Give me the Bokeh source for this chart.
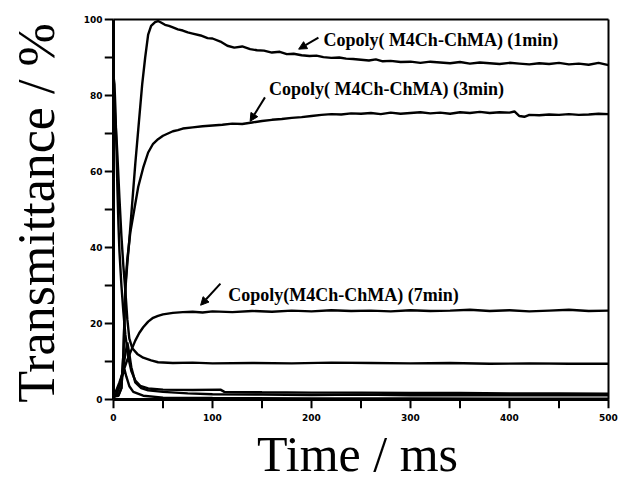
from bokeh.plotting import figure
from bokeh.models import FixedTicker, Arrow, NormalHead, Label, Range1d
from bokeh.embed import file_html
from bokeh.resources import INLINE

# ---- data ----
t_1min = [0, 5, 8, 10, 12, 14, 16, 19, 22, 25, 29, 32, 35, 38, 42, 45, 48, 52, 56, 60, 65, 70, 75, 80, 88, 95,
          100, 108, 115, 122, 130, 138, 145, 152, 160, 168, 175, 182, 190, 198, 205, 212, 220, 228, 235, 242, 250,
          258, 265, 272, 280, 290, 300, 310, 320, 330, 340, 350, 360, 370, 380, 390, 400, 410, 420, 430, 440, 450,
          460, 470, 480, 490, 500]
v_1min = [0.8, 1.0, 3, 12, 29, 36, 42, 52, 62, 71, 83, 90, 96, 98.3, 99.3, 99.6, 99.2, 98.6, 98.3, 97.9, 97.4, 97.1,
          96.6, 96.3, 95.8, 95.1, 95.0, 94.2, 93.1, 92.6, 92.9, 92.2, 91.9, 91.8, 91.3, 91.5, 90.9, 91.0, 90.6, 90.4,
          90.5, 90.1, 89.9, 90.0, 89.7, 89.6, 89.4, 89.2, 89.5, 89.0, 89.1, 88.8, 88.9, 88.6, 88.9, 88.7, 88.5, 88.8,
          88.4, 88.7, 88.5, 88.3, 88.6, 88.4, 88.2, 88.5, 88.3, 88.6, 88.2, 88.4, 88.1, 88.6, 88.0]

t_3min = [0, 5, 8, 10, 12, 14, 17, 21, 25, 30, 35, 40, 45, 50, 55, 60, 65, 70, 80, 90, 100, 110, 120, 130, 140, 150,
          160, 170, 180, 190, 200, 210, 220, 230, 240, 250, 260, 270, 280, 290, 300, 310, 320, 330, 340, 350, 360,
          370, 380, 390, 400, 405, 410, 415, 420, 430, 440, 450, 460, 470, 480, 490, 500]
v_3min = [1.0, 1.2, 3, 12, 30, 37, 44, 50, 56, 61, 65, 67.3, 68.5, 69.4, 70.0, 70.6, 70.9, 71.3, 71.6, 71.9, 72.1,
          72.3, 72.6, 72.5, 72.9, 73.3, 73.6, 73.8, 74.1, 74.3, 74.6, 74.9, 75.1, 75.0, 75.3, 75.2, 75.4, 75.1, 75.5,
          75.2, 75.4, 75.6, 75.3, 75.5, 75.2, 75.6, 75.4, 75.7, 75.4, 75.6, 75.5, 75.8, 74.6, 74.4, 74.9, 74.8, 75.0,
          74.9, 75.1, 74.9, 75.0, 75.2, 75.1]

t_7min = [0, 3, 6, 10, 14, 18, 22, 26, 30, 35, 40, 45, 50, 55, 60, 70, 80, 90, 100, 120, 140, 160, 180, 200, 220,
          240, 260, 280, 300, 320, 340, 360, 380, 400, 420, 440, 460, 480, 500]
v_7min = [1.5, 2.5, 4.5, 7.5, 10.5, 13, 15.5, 17.5, 19, 20.5, 21.5, 22.0, 22.4, 22.6, 22.8, 23.0, 23.1, 22.9, 23.2,
          23.0, 23.3, 23.1, 23.4, 23.2, 23.5, 23.3, 23.4, 23.2, 23.5, 23.3, 23.4, 23.6, 23.3, 23.5, 23.2, 23.4, 23.6,
          23.3, 23.4]

t_off_a = [0, 1, 2, 3, 4, 5, 6, 8, 10, 12, 15, 18, 22, 27, 35, 50, 80, 108, 112, 150, 200, 250, 300, 350, 400, 450, 500]
v_off_a = [85, 83, 76, 66, 55, 46, 39, 30, 23, 17, 11, 7.5, 5, 3.6, 2.9, 2.6, 2.5, 2.6, 2.0, 1.9, 1.8, 1.8, 1.7,
           1.7, 1.6, 1.6, 1.5]

t_off_b = [0, 1, 2, 3, 4, 6, 8, 10, 12, 14, 16, 19, 24, 30, 38, 45, 60, 80, 100, 140, 180, 220, 260, 300, 340, 380,
           420, 460, 500]
v_off_b = [78, 77, 73, 69, 64, 53, 43, 35, 28.5, 21, 16, 13.5, 12, 11, 10.3, 9.8, 9.6, 9.7, 9.5, 9.6, 9.5, 9.7, 9.6,
           9.5, 9.6, 9.4, 9.5, 9.4, 9.4]

t_off_c = [0, 3, 6, 9, 12, 14, 16, 18, 22, 28, 35, 50, 75, 100, 150, 200, 250, 300, 350, 400, 450, 500]
v_off_c = [0.5, 1.5, 3.5, 7, 12, 15, 12, 8.5, 4.5, 3.0, 2.4, 2.0, 1.6, 1.4, 1.3, 1.2, 1.3, 1.1, 1.2, 1.1, 1.2, 1.1]

t_off_d = [0, 4, 8, 11, 13, 16, 20, 30, 50, 100, 200, 300, 400, 500]
v_off_d = [0.3, 2, 5.5, 8, 6, 3.5, 2, 1, 0.5, 0.4, 0.3, 0.3, 0.2, 0.2]

y_ticks = [0, 20, 40, 60, 80, 100]
y_minor = [10, 30, 50, 70, 90]
x_ticks = [0, 100, 200, 300, 400, 500]
x_minor = [50, 150, 250, 350, 450]

labels = ["Copoly( M4Ch-ChMA) (1min)", "Copoly( M4Ch-ChMA) (3min)", "Copoly(M4Ch-ChMA) (7min)"]

# annotation placement (data units)
label_pos = [(212, 94.5), (157, 81.8), (116, 27.6)]
arrow_pos = [((207, 95.2), (187, 92.2)), ((153, 79.5), (138, 73.2)), ((108, 30.5), (88, 24.8))]

# ---- layout ----
W, H = 624, 488
X0, X1, Y0, Y1 = 0, 500, 0, 100
PX_LEFT, PX_RIGHT, PX_TOP, PX_BOTTOM = 113, 608, 19, 399   # box of the data area
TICK_PX, PAD = 9, 2
ux = (X1 - X0) / (PX_RIGHT - PX_LEFT)
uy = (Y1 - Y0) / (PX_BOTTOM - PX_TOP)

p = figure(width=W, height=H,
           x_range=Range1d(X0 - TICK_PX * ux, X1 + PAD * ux),
           y_range=Range1d(Y0 - TICK_PX * uy, Y1 + PAD * uy),
           output_backend="svg", toolbar_location=None,
           min_border_left=PX_LEFT - TICK_PX, min_border_right=W - PX_RIGHT - PAD,
           min_border_top=PX_TOP - PAD, min_border_bottom=H - PX_BOTTOM - TICK_PX)
p.grid.visible = False
p.outline_line_color = None

# data curves
for t, v in [(t_1min, v_1min), (t_3min, v_3min), (t_7min, v_7min),
             (t_off_a, v_off_a), (t_off_b, v_off_b), (t_off_c, v_off_c), (t_off_d, v_off_d)]:
    p.line(t, v, line_color="black", line_width=2.4)

# box: left & bottom axis lines (thick), top & right border
p.segment(x0=[X0, X0], y0=[Y0, Y0], x1=[X0, X1], y1=[Y1, Y0], line_color="black", line_width=3)
p.segment(x0=[X0, X1], y0=[Y1, Y0], x1=[X1, X1], y1=[Y1, Y1], line_color="black", line_width=2)

# outward tick marks from the tick arrays
xt = x_ticks + x_minor
yt = y_ticks + y_minor
p.segment(x0=xt, y0=[Y0] * len(xt), x1=xt, y1=[Y0 - TICK_PX * uy] * len(xt), line_color="black", line_width=2)
p.segment(x0=[X0] * len(yt), y0=yt, x1=[X0 - TICK_PX * ux] * len(yt), y1=yt, line_color="black", line_width=2)

# axes carry only the tick labels and axis titles
p.xaxis[0].ticker = FixedTicker(ticks=x_ticks, minor_ticks=[])
p.yaxis[0].ticker = FixedTicker(ticks=y_ticks, minor_ticks=[])
for ax in (p.xaxis[0], p.yaxis[0]):
    ax.axis_line_color = None
    ax.major_tick_line_color = None
    ax.minor_tick_line_color = None
    ax.major_tick_out = 0
    ax.major_tick_in = 0
    ax.minor_tick_out = 0
    ax.minor_tick_in = 0
    ax.major_label_text_font = "DejaVu Sans"
    ax.major_label_text_font_style = "bold"
    ax.major_label_text_font_size = "9px"
    ax.major_label_text_color = "black"
    ax.axis_label_text_font = "Liberation Serif"
    ax.axis_label_text_font_style = "normal"
    ax.axis_label_text_color = "black"

p.xaxis[0].axis_label = "Time / ms"
p.yaxis[0].axis_label = "Transmittance / %"
p.xaxis[0].axis_label_text_font_size = "50px"
p.yaxis[0].axis_label_text_font_size = "52px"
p.xaxis[0].major_label_standoff = 5
p.yaxis[0].major_label_standoff = 2
p.xaxis[0].axis_label_standoff = 2
p.yaxis[0].axis_label_standoff = 16

for txt, (lx, ly), (a0, a1) in zip(labels, label_pos, arrow_pos):
    p.add_layout(Label(x=lx, y=ly, text=txt, text_font="Liberation Serif", text_font_style="bold",
                       text_font_size="18px", text_baseline="middle", text_align="left", text_color="black"))
    p.add_layout(Arrow(x_start=a0[0], y_start=a0[1], x_end=a1[0], y_end=a1[1], line_width=2,
                       line_color="black",
                       end=NormalHead(size=8, fill_color="black", line_color="black", line_width=1)))

open("out.html", "w").write(file_html(p, INLINE))
